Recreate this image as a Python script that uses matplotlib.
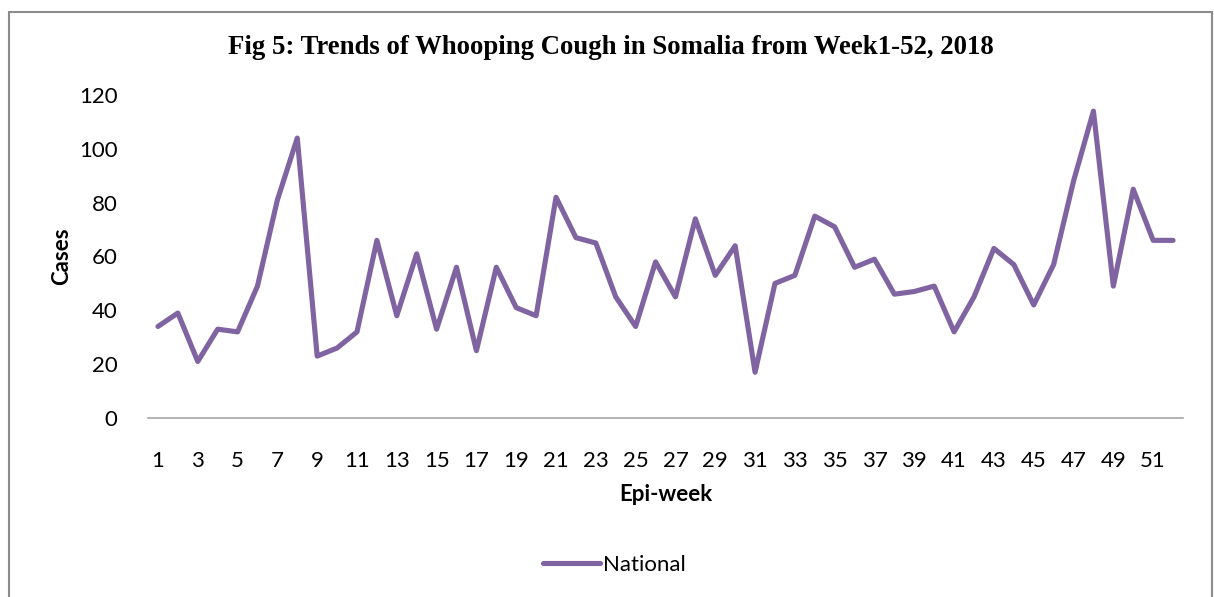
import matplotlib.pyplot as plt
from matplotlib.patches import Rectangle
import numpy as np

weeks = list(range(1, 53))
cases = [34, 39, 21, 33, 32, 49, 81, 104, 23, 26,
         32, 66, 38, 61, 33, 56, 25, 56, 41, 38,
         82, 67, 65, 45, 34, 58, 45, 74, 53, 64,
         17, 50, 53, 75, 71, 56, 59, 46, 47, 49,
         32, 45, 63, 57, 42, 57, 88, 114, 49, 85,
         66, 66]
tick_weeks = weeks[::2]

plt.rcParams['font.family'] = ['Lato', 'DejaVu Sans']

W, H = 1214, 597
fig = plt.figure(figsize=(W / 100, H / 100), dpi=100)
ax = fig.add_axes([148 / W, 1 - 418 / H, (1183 - 148) / W, (418 - 95) / H])

line, = ax.plot(weeks, cases, color='#8064A2', linewidth=3.7,
                solid_joinstyle='round', solid_capstyle='round', label='National')

ax.set_xlim(0.5, 52.5)
ax.set_ylim(0, 120)
ax.set_yticks(np.arange(0, 121, 20))
ax.set_xticks(tick_weeks)
ax.tick_params(axis='both', length=0, labelsize=16, colors='black')
ax.tick_params(axis='x', pad=24)
ax.tick_params(axis='y', pad=22)

for side in ['top', 'right', 'left']:
    ax.spines[side].set_visible(False)
ax.spines['bottom'].set_color('#A6A6A6')
ax.spines['bottom'].set_linewidth(1.2)

ax.set_xlabel('Epi-week', fontsize=16, fontweight='bold', labelpad=9)
ax.set_ylabel('Cases', fontsize=16, fontweight='bold', labelpad=5)

fig.text(611 / W, 1 - 48 / H,
         'Fig 5: Trends of Whooping Cough in Somalia from Week1-52, 2018',
         ha='center', va='center', fontsize=19.3, fontweight='bold',
         family=['Liberation Serif', 'DejaVu Serif'])

fig.legend(handles=[line], loc='center', bbox_to_anchor=(614 / W, 1 - 565 / H),
           frameon=False, fontsize=16, handlelength=2.6, handletextpad=0.1)

fig.patches.append(Rectangle((9 / W, -0.1), (1212 - 9) / W, 1.1 - 12 / H,
                             transform=fig.transFigure, fill=False,
                             edgecolor='#8C8C8C', linewidth=1.5))

fig.savefig('out.png', dpi=100)
plt.close()
